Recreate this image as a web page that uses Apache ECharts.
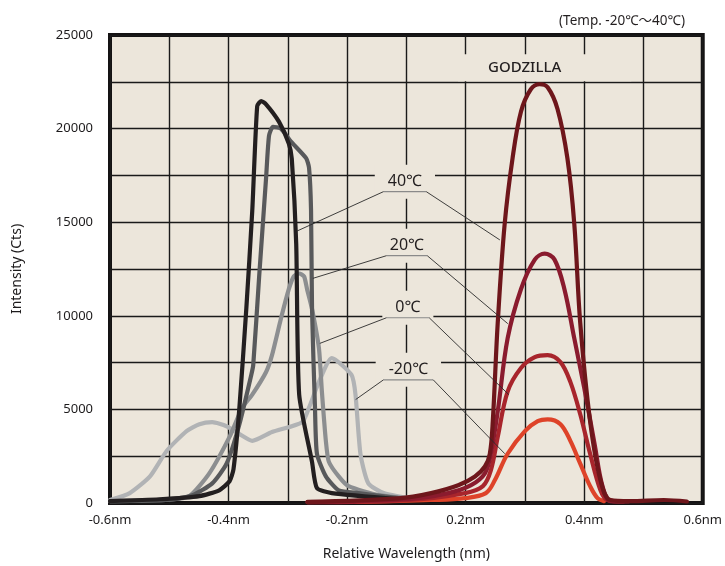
<!DOCTYPE html>
<html><head><meta charset="utf-8">
<script src="https://cdn.jsdelivr.net/npm/echarts@6/dist/echarts.min.js"></script>
<style>html,body{margin:0;padding:0;background:#fff}#c{width:725px;height:566px}</style>
</head><body><div id="c"></div>
<script>
// ---- tick labels (x axis runs in evenly spaced axis units, -0.6 .. 0.6, 10 columns) ----
const xTickLabels = ['-0.6nm', '-0.4nm', '-0.2nm', '0.2nm', '0.4nm', '0.6nm'];
const yTickLabels = ['0', '5000', '10000', '15000', '20000', '25000'];
const seriesNames = ['-20℃', '0℃', '20℃', '40℃'];

// ---- left group (gray/black) ----
const leftM20 = [[-0.600,160],[-0.560,530],[-0.519,1420],[-0.485,2790],[-0.445,3840],[-0.419,4210],[-0.393,4320],[-0.364,4100],[-0.338,3680],[-0.312,3320],[-0.272,3790],[-0.211,4320],[-0.197,5100],[-0.177,6470],[-0.151,7740],[-0.111,6840],[-0.103,5790],[-0.093,2630],[-0.077,1050],[-0.046,530],[0.004,260]];
const leftP0 = [[-0.600,100],[-0.480,180],[-0.439,370],[-0.399,1580],[-0.358,3530],[-0.332,5100],[-0.312,5790],[-0.284,7000],[-0.272,7900],[-0.254,9840],[-0.238,11420],[-0.228,12100],[-0.217,12260],[-0.207,12100],[-0.201,11420],[-0.191,10370],[-0.177,8260],[-0.171,5950],[-0.163,3320],[-0.157,2210],[-0.137,1420],[-0.117,900],[-0.056,420],[0.024,210]];
const leftP20 = [[-0.600,100],[-0.480,180],[-0.433,420],[-0.393,1050],[-0.364,2100],[-0.338,4210],[-0.314,6840],[-0.310,7370],[-0.298,12100],[-0.284,17370],[-0.278,19630],[-0.270,20100],[-0.254,20000],[-0.234,19320],[-0.203,18420],[-0.197,17900],[-0.193,15630],[-0.191,10370],[-0.185,5100],[-0.181,2630],[-0.163,1420],[-0.137,680],[-0.097,530],[-0.016,260]];
const leftP40 = [[-0.600,100],[-0.500,200],[-0.419,370],[-0.379,680],[-0.358,1160],[-0.350,1800],[-0.338,5100],[-0.324,10400],[-0.312,15600],[-0.302,21200],[-0.294,21470],[-0.284,21300],[-0.258,20370],[-0.238,19200],[-0.232,18400],[-0.223,13840],[-0.217,5790],[-0.191,2200],[-0.181,790],[-0.151,530],[-0.016,210]];

// ---- right group (GODZILLA, reds) ----
const rightM20 = [[-0.100,60],[0.050,160],[0.119,260],[0.161,530],[0.179,1210],[0.205,2630],[0.240,3840],[0.266,4370],[0.286,4470],[0.312,4210],[0.332,3320],[0.352,2100],[0.372,900],[0.387,260],[0.400,100]];
const rightP0 = [[-0.200,40],[0.000,150],[0.119,530],[0.155,900],[0.171,1740],[0.185,3530],[0.205,5950],[0.232,7210],[0.260,7790],[0.286,7900],[0.312,7530],[0.332,6470],[0.352,4740],[0.372,2630],[0.393,680],[0.407,160],[0.440,80]];
const rightP20 = [[-0.200,50],[0.000,200],[0.085,530],[0.131,950],[0.159,1580],[0.171,2630],[0.185,4900],[0.205,8790],[0.232,11420],[0.260,13000],[0.280,13320],[0.300,13000],[0.320,11420],[0.340,8790],[0.360,6160],[0.381,3160],[0.397,900],[0.413,100],[0.450,80]];
const rightP40 = [[-0.200,60],[-0.016,250],[0.050,530],[0.105,950],[0.139,1420],[0.159,1950],[0.169,2630],[0.175,4370],[0.185,9630],[0.199,14900],[0.215,18420],[0.232,20900],[0.252,22100],[0.270,22370],[0.286,22210],[0.306,21050],[0.326,18420],[0.340,14900],[0.352,9630],[0.372,4370],[0.393,1210],[0.413,160],[0.453,100],[0.521,160],[0.568,80]];

// ---- annotations (data coordinates) ----
const annotLabels = ['40℃', '20℃', '0℃', '-20℃'];
const annotLeftEnd = [[-0.2215,14526],[-0.1893,12000],[-0.1752,8526],[-0.1027,5526]];
const annotUnderline = [[-0.0463,0.0403,16632],[-0.0403,0.0423,13211],[-0.0403,0.0463,9895],[-0.0463,0.0544,6579]];
const annotRightEnd = [[0.1893,14053],[0.2054,9579],[0.2074,5789],[0.1993,2632]];
const productLabel = 'GODZILLA';
const productAnchor = [0.2799, 23250];
const tempRangeLabel = '(Temp. -20℃～40℃)';

const leftColors = ['#b1b3b5', '#8c8e90', '#58595b', '#231f20'];
const rightColors = ['#de4329', '#a8252c', '#8a1b2e', '#6e161b'];

const FONT = '"Noto Sans", "Noto Sans CJK JP", sans-serif';
const chart = echarts.init(document.getElementById('c'), null, {renderer: 'canvas'});

function mk(name, data, color, smooth) {
  return {
    name, type: 'line', data, showSymbol: false, symbol: 'none', smooth,
    lineStyle: {color, width: 4.2, cap: 'round', join: 'round'},
    emphasis: {disabled: true}, animation: false, z: 3
  };
}

const leftData = [leftM20, leftP0, leftP20, leftP40];
const rightData = [rightM20, rightP0, rightP20, rightP40];
const series = [];
leftData.forEach((d, i) => series.push(mk(seriesNames[i], d, leftColors[i], 0.2)));
rightData.forEach((d, i) => series.push(mk(seriesNames[i], d, rightColors[i], 0.35)));

const option = {
  animation: false,
  backgroundColor: '#ffffff',
  grid: {left: 110, right: 19, top: 35, bottom: 56, show: true, backgroundColor: '#ece6db', borderColor: '#141213', borderWidth: 4},
  xAxis: {
    type: 'value', min: -0.6, max: 0.6, interval: 0.12,
    name: 'Relative Wavelength (nm)', nameLocation: 'middle', nameGap: 44,
    nameTextStyle: {fontFamily: FONT, fontSize: 14, color: '#1d1b1c'},
    axisLine: {show: false}, axisTick: {show: false},
    axisLabel: {
      fontFamily: FONT, fontSize: 13, color: '#1d1b1c', margin: 11, showMinLabel: true, showMaxLabel: true,
      formatter: v => { const k = Math.round((v + 0.6) / 0.12); return k % 2 === 0 ? xTickLabels[k / 2] : ''; }
    },
    splitLine: {show: true, lineStyle: {color: '#1a1a1a', width: 1.4}}
  },
  yAxis: {
    type: 'value', min: 0, max: 25000, interval: 2500,
    name: 'Intensity (Cts)', nameLocation: 'middle', nameGap: 86, nameRotate: 90,
    nameTextStyle: {fontFamily: FONT, fontSize: 14, color: '#1d1b1c'},
    axisLine: {show: false}, axisTick: {show: false},
    axisLabel: {
      fontFamily: FONT, fontSize: 13, color: '#1d1b1c', margin: 17,
      formatter: v => { const k = Math.round(v / 2500); return k % 2 === 0 ? yTickLabels[k / 2] : ''; }
    },
    splitLine: {show: true, lineStyle: {color: '#1a1a1a', width: 1.4}}
  },
  series
};
chart.setOption(option);

const P = p => chart.convertToPixel({gridIndex: 0}, p);
const g = [];
annotLabels.forEach((t, i) => {
  const L = P(annotLeftEnd[i]);
  const U1 = P([annotUnderline[i][0], annotUnderline[i][2]]);
  const U2 = P([annotUnderline[i][1], annotUnderline[i][2]]);
  const R = P(annotRightEnd[i]);
  g.push({type: 'text', z: 50, x: (U1[0] + U2[0]) / 2, y: U1[1] - 10,
    style: {text: t, font: '16px ' + FONT, fill: '#231f20', align: 'center', verticalAlign: 'middle',
      backgroundColor: '#ece6db', padding: [9, 13, 9, 13]}});
  g.push({type: 'polyline', z: 60, shape: {points: [U1, U2]}, style: {stroke: '#8a8a8a', lineWidth: 1.2, fill: null}});
  g.push({type: 'polyline', z: 60, shape: {points: [L, U1]}, style: {stroke: '#2a2a2a', lineWidth: 0.9, fill: null}});
  g.push({type: 'polyline', z: 60, shape: {points: [U2, R]}, style: {stroke: '#2a2a2a', lineWidth: 0.9, fill: null}});
});
const GA = P(productAnchor);
g.push({type: 'text', z: 50, x: GA[0], y: GA[1],
  style: {text: productLabel, font: '500 15px ' + FONT, fill: '#231f20', align: 'center', verticalAlign: 'middle',
    backgroundColor: '#ece6db', padding: [6, 70, 6, 30]}});
g.push({type: 'text', z: 50, x: 685, y: 21,
  style: {text: tempRangeLabel, font: '13.5px ' + FONT, fill: '#231f20', align: 'right', verticalAlign: 'middle'}});
chart.setOption({graphic: g});
</script></body></html>
